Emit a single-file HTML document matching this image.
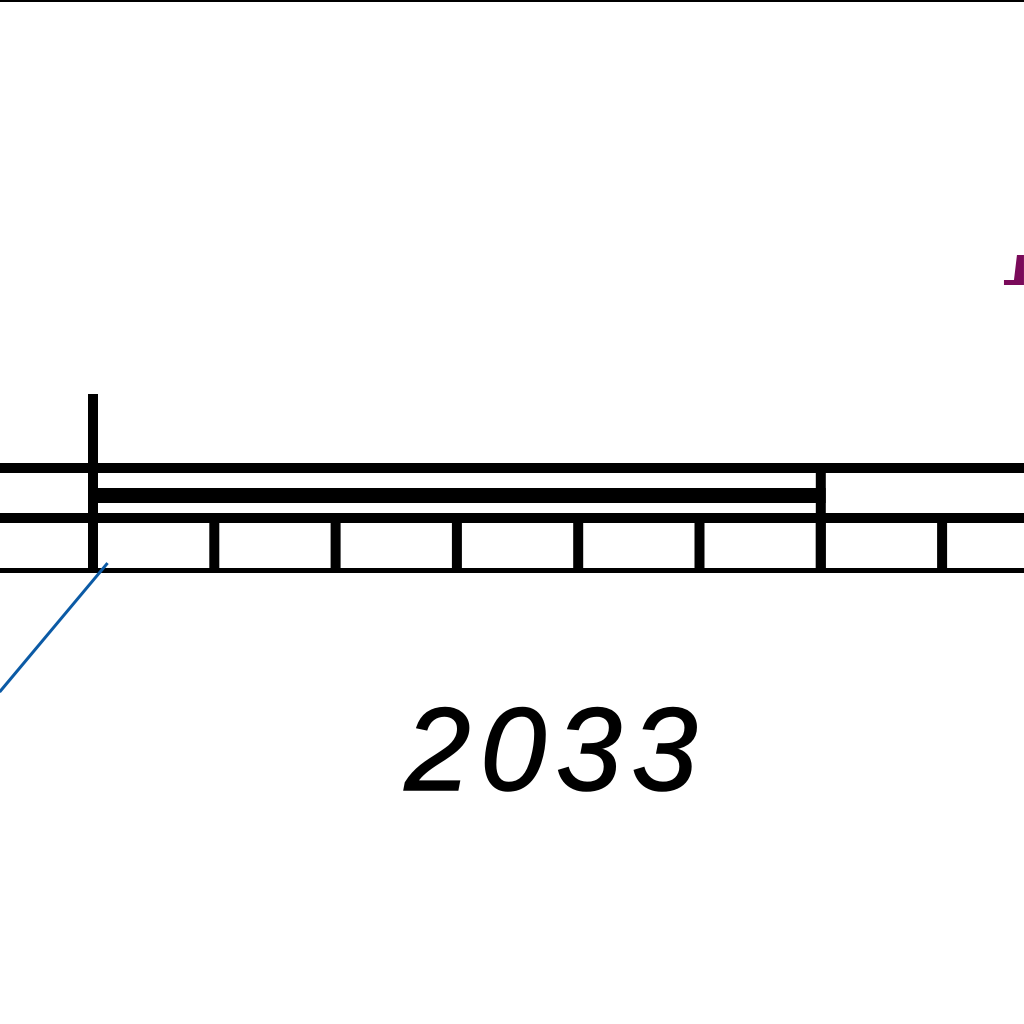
<!DOCTYPE html>
<html><head><meta charset="utf-8"><style>
html,body{margin:0;padding:0;background:#fff;width:1024px;height:1024px;overflow:hidden}
svg{display:block}
</style></head><body>
<svg id="chart" width="1024" height="1024" viewBox="0 0 1024 1024">
<line x1="0" y1="1" x2="1024" y2="1" stroke="#000" stroke-width="2"/>
<g id="axis"></g>
<g id="series"></g>
<text x="556" y="790" text-anchor="middle" font-family="Liberation Sans, sans-serif" font-style="italic" font-size="118" letter-spacing="10" stroke="#000" stroke-width="1.5">2033</text>
</svg>
<script>
var tickValues = [0,1,2,3,4,5,6,7,8];
var majorTicks = [0,6];
var blueSeriesX = [0.12,-0.77];
var blueSeriesY = [0.04,-1.0];
var purpleX = [7.51];
var purpleY = [2.5];
var NS='http://www.w3.org/2000/svg';
function xs(v){return 93+v*121.3;}
function ys(v){return 568-v*124;}
function mk(tag,attrs,parent){var e=document.createElementNS(NS,tag);for(var k in attrs)e.setAttribute(k,attrs[k]);parent.appendChild(e);return e;}
var ax=document.getElementById('axis');
var sr=document.getElementById('series');
var l1=mk('rect',{x:0,y:463,width:1024,height:10,fill:'#000'},ax);


var l2=mk('rect',{x:xs(majorTicks[0])+5,y:488,width:xs(majorTicks[1])-xs(majorTicks[0]),height:15,fill:'#000'},ax);


var l3=mk('rect',{x:0,y:513,width:1024,height:10,fill:'#000'},ax);


var l4=mk('rect',{x:0,y:568,width:1024,height:5,fill:'#000'},ax);


tickValues.forEach(function(v){
  var x=xs(v);
  var t=mk('rect',{x:x-5,y:523,width:10,height:46,fill:'#000'},ax);
  
  
});
var big=mk('rect',{x:xs(majorTicks[0])-5,y:394,width:10,height:176,fill:'#000'},ax);


var big2=mk('rect',{x:xs(majorTicks[1])-5,y:463,width:10,height:107,fill:'#000'},ax);


var bl=mk('line',{x1:xs(blueSeriesX[0]),y1:ys(blueSeriesY[0]),x2:xs(blueSeriesX[1]),y2:ys(blueSeriesY[1]),stroke:'#0b5aa5','stroke-width':3},sr);


purpleX.forEach(function(v,i){
  var x=xs(v),y=ys(purpleY[i]);
  var p=mk('polygon',{points:(x)+','+(y+27)+' '+(x+20)+','+(y+27)+' '+(x+20)+','+(y-3)+' '+(x+13)+','+(y-3)+' '+(x+10)+','+(y+22)+' '+(x)+','+(y+22),fill:'#7a0a5a'},sr);
  
  
});
</script>
</body></html>
